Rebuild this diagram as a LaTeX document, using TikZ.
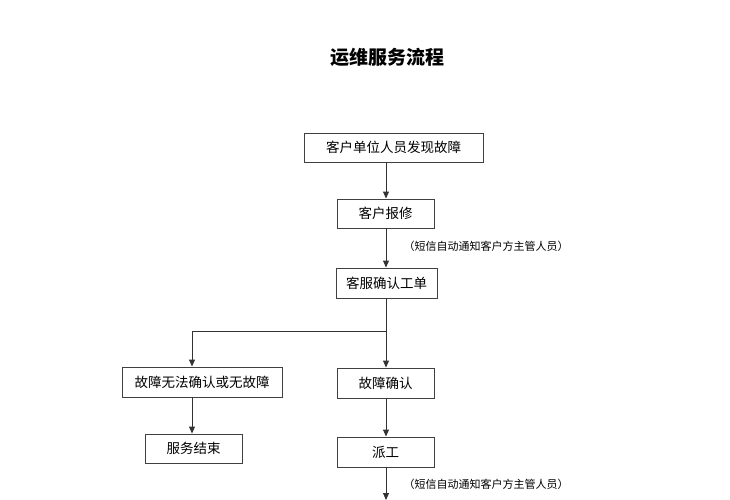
\documentclass[tikz,border=0pt]{standalone}
\usepackage{fontspec}
\setmainfont{Noto Sans CJK SC}
\usetikzlibrary{arrows.meta}
\begin{document}
\begin{tikzpicture}[x=1pt,y=-1pt,
  box/.style={draw=black!75,line width=0.9pt,minimum height=29pt,inner sep=0pt,font=\fontsize{13.5}{14}\selectfont},
  arr/.style={draw=black!80,line width=0.9pt,-{Triangle[length=7pt,width=6pt]}},
  note/.style={font=\fontsize{11}{12}\selectfont,anchor=west}]
\useasboundingbox (0,0) rectangle (730,500);
\node[font=\fontsize{19}{20}\selectfont\bfseries] (t) at (387,57) {运维服务流程};
\node[box,minimum width=179pt] (a) at (393.5,147.5) {客户单位人员发现故障};
\node[box,minimum width=97pt] (b) at (385.5,213.5) {客户报修};
\node[box,minimum width=101pt,minimum height=30pt] (c) at (386.5,283) {客服确认工单};
\node[box,minimum width=160pt,minimum height=30pt] (d) at (202,382) {故障无法确认或无故障};
\node[box,minimum width=97pt,minimum height=30pt] (e) at (385.5,383) {故障确认};
\node[box,minimum width=97pt] (f) at (193.5,448.5) {服务结束};
\node[box,minimum width=97pt,minimum height=30pt] (g) at (385.5,452) {派工};
\coordinate (br) at (386,331);
\coordinate (end) at (386,500);
\draw[arr] (386,162) -- (b.north -| 386,0);
\draw[arr] (b.south -| 386,0) -- (c.north -| 386,0);
\draw[arr] (c.south -| 386,0) -- (e.north -| 386,0);
\draw[arr] (br) -| (d.north -| 192,0);
\draw[arr] (d.south -| 192,0) -- (f.north -| 192,0);
\draw[arr] (e.south -| 386,0) -- (g.north -| 386,0);
\draw[arr] (g.south -| 386,0) -- (end);
\node[note] (n1) at (400,246) {（短信自动通知客户方主管人员）};
\node[note] (n2) at (400,484) {（短信自动通知客户方主管人员）};
\end{tikzpicture}
\end{document}
